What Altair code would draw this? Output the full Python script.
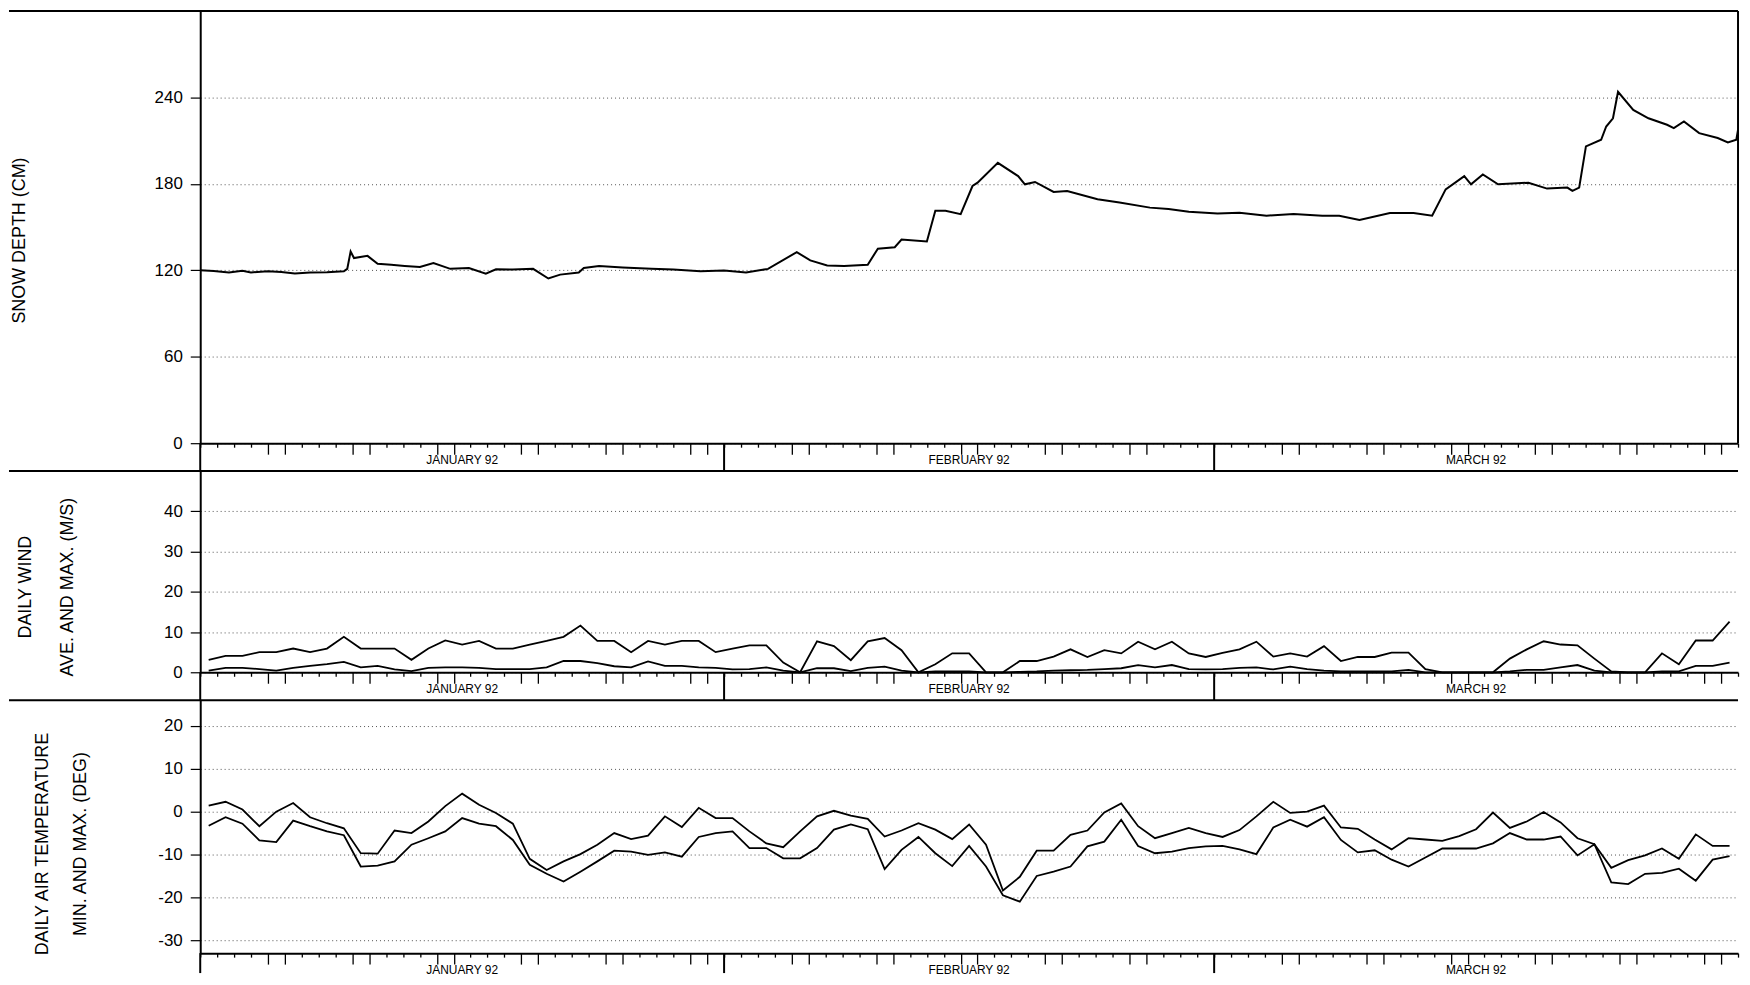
import altair as alt
import pandas as pd

FONT = "Liberation Sans"

# ---------------- data ----------------
MONTHS = ["JANUARY 92", "FEBRUARY 92", "MARCH 92"]
MONTH_START = [0, 31, 60]
MONTH_END = [31, 60, 91]

# snow depth (cm) at fractional day since 1 Jan 1992
SNOW_DAY = [0.0, 0.8, 1.7, 2.5, 3.0, 4.0, 4.8, 5.6, 6.5, 7.5,
            8.5, 8.7, 8.9, 9.1, 9.9, 10.5, 11.3, 12.1, 13.0, 13.8,
            14.8, 15.9, 16.9, 17.5, 18.5, 19.7, 20.6, 21.3, 22.4, 22.7,
            23.6, 25.0, 26.7, 28.0, 29.6, 31.0, 32.3, 33.6, 35.3, 36.1,
            37.1, 38.1, 39.5, 40.1, 41.1, 41.5, 43.0, 43.5, 44.1, 45.0,
            45.7, 46.0, 47.2, 48.4, 48.8, 49.4, 50.5, 51.3, 53.1, 54.4,
            56.2, 57.3, 58.5, 60.2, 61.5, 63.1, 64.7, 66.4, 67.4, 68.6,
            70.4, 71.8, 72.9, 73.7, 74.8, 75.2, 75.9, 76.8, 78.6, 79.7,
            80.9, 81.2, 81.6, 82.0, 82.9, 83.2, 83.6, 83.9, 84.8, 85.7,
            86.8, 87.2, 87.8, 88.7, 89.8, 90.4, 90.9, 91.0]
SNOW_CM = [120, 119.5, 118.4, 119.6, 118.5, 119.3, 118.8, 117.7, 118.5, 118.7,
           119.3, 121, 133, 128.5, 130, 124.6, 123.8, 123, 122.3, 125,
           121, 121.6, 117.7, 120.7, 120.5, 121, 114.3, 117, 118.4, 121.6,
           123, 122, 121, 120.5, 119.3, 119.8, 118.4, 121, 132.6, 126.9,
           123.4, 123, 123.9, 135, 136, 141.3, 140, 161.3, 161.3, 159,
           178.5, 180.8, 194.6, 185.4, 179.7, 181.3, 174.4, 175, 169.3, 167,
           163.5, 162.5, 160.6, 159.5, 160, 157.9, 159, 157.9, 157.9, 155,
           159.7, 159.7, 157.9, 176.2, 185.4, 179.7, 186.5, 179.7, 180.8, 176.7,
           177.4, 175.1, 177.4, 206, 210.6, 219.8, 225.5, 243.9, 231.3, 225.5,
           221, 218.7, 223.3, 215.2, 211.8, 208.8, 210.6, 217.5]

# daily values (1 Jan .. 31 Mar 1992), plotted at mid-day
DAY_MID = [d + 0.5 for d in range(91)]

WIND_MAX = [3.1, 4.1, 4.1, 5.0, 5.0, 5.9, 5.0, 5.9, 8.8, 5.9,
            5.9, 5.9, 3.1, 5.9, 7.9, 6.9, 7.8, 5.9, 5.9, 6.9,
            7.8, 8.8, 11.6, 7.8, 7.8, 5.0, 7.8, 6.9, 7.8, 7.8,
            5.0, 5.9, 6.7, 6.7, 2.4, 0.0, 7.7, 6.5, 3.0, 7.7,
            8.5, 5.5, 0.0, 2.0, 4.7, 4.7, 0.0, 0.0, 2.8, 2.8,
            3.9, 5.7, 3.8, 5.5, 4.7, 7.6, 5.7, 7.6, 4.7, 3.8,
            4.8, 5.7, 7.6, 3.9, 4.7, 3.9, 6.5, 2.8, 3.8, 3.8,
            4.9, 4.9, 0.8, 0.0, 0.0, 0.0, 0.0, 3.4, 5.7, 7.7,
            6.9, 6.7, 3.4, 0.2, 0.0, 0.0, 4.7, 2.0, 7.9, 7.9,
            12.6]
WIND_AVE = [0.4, 1.1, 1.1, 0.8, 0.4, 1.1, 1.6, 2.0, 2.6, 1.2,
            1.6, 0.7, 0.3, 1.1, 1.2, 1.2, 1.1, 0.8, 0.8, 0.8,
            1.2, 2.8, 2.8, 2.3, 1.5, 1.2, 2.7, 1.6, 1.6, 1.2,
            1.1, 0.7, 0.8, 1.2, 0.4, 0.0, 1.0, 1.0, 0.3, 1.1,
            1.4, 0.4, 0.0, 0.2, 0.2, 0.2, 0.0, 0.0, 0.1, 0.2,
            0.4, 0.5, 0.6, 0.8, 1.0, 1.8, 1.2, 1.8, 0.8, 0.7,
            0.8, 1.1, 1.2, 0.7, 1.4, 0.8, 0.4, 0.2, 0.2, 0.2,
            0.2, 0.6, 0.0, 0.0, 0.0, 0.0, 0.0, 0.2, 0.6, 0.6,
            1.2, 1.8, 0.4, 0.0, 0.0, 0.0, 0.2, 0.2, 1.6, 1.6,
            2.4]

TEMP_MAX = [1.4, 2.3, 0.5, -3.4, 0.0, 2.0, -1.3, -2.7, -3.9, -9.7,
            -9.8, -4.4, -5.0, -2.3, 1.3, 4.2, 1.6, -0.3, -2.8, -11.0,
            -13.6, -11.6, -9.9, -7.7, -5.0, -6.4, -5.6, -1.1, -3.6, 0.9,
            -1.5, -1.5, -4.6, -7.4, -8.3, -4.6, -1.1, 0.2, -0.9, -1.7,
            -5.8, -4.4, -2.7, -4.2, -6.4, -3.0, -7.7, -18.4, -15.2, -9.1,
            -9.1, -5.4, -4.4, -0.2, 1.9, -3.4, -6.2, -5.0, -3.8, -5.0,
            -5.9, -4.3, -1.1, 2.3, -0.3, 0.0, 1.4, -3.7, -4.0, -6.5,
            -8.8, -6.2, -6.5, -6.8, -5.7, -4.1, -0.2, -3.8, -2.3, -0.1,
            -2.5, -6.2, -7.6, -13.1, -11.3, -10.2, -8.6, -11.0, -5.3, -8.0,
            -8.0]
TEMP_MIN = [-3.3, -1.3, -2.8, -6.7, -7.1, -2.1, -3.4, -4.6, -5.5, -12.8,
            -12.6, -11.6, -7.7, -6.2, -4.6, -1.5, -2.8, -3.4, -6.6, -12.4,
            -14.5, -16.3, -14.0, -11.6, -9.1, -9.3, -10.1, -9.5, -10.5, -5.9,
            -5.0, -4.6, -8.5, -8.5, -10.9, -10.9, -8.5, -4.2, -3.0, -4.1,
            -13.4, -8.9, -5.9, -9.7, -12.7, -8.0, -12.8, -19.5, -21.0, -15.0,
            -14.0, -12.8, -8.1, -7.0, -1.9, -8.0, -9.7, -9.3, -8.5, -8.1,
            -8.0, -8.8, -9.9, -3.7, -1.9, -3.5, -1.3, -6.6, -9.5, -9.0,
            -11.2, -12.8, -10.7, -8.6, -8.6, -8.6, -7.4, -5.0, -6.5, -6.5,
            -5.8, -10.2, -7.6, -16.5, -16.9, -14.5, -14.3, -13.3, -16.1, -11.2,
            -10.4]

# long "pair" ticks bracket the 5th, 10th, ... day of each month
LONG_TICKS = []
for s, e in zip(MONTH_START, MONTH_END):
    for k in (5, 10, 15, 20, 25, 30):
        if s + k <= e:
            LONG_TICKS += [s + k - 1, s + k]

# ---------------- layout ----------------
W = 1544
LEFT = 192
BAND = 28
H1, H2, H3 = 434, 202, 254

month_df = pd.DataFrame({"month": MONTHS, "start": MONTH_START, "end": MONTH_END})
snow_df = pd.DataFrame({"day": SNOW_DAY, "cm": SNOW_CM})
wind_df = pd.DataFrame({"day": DAY_MID, "Max": WIND_MAX, "Ave": WIND_AVE})
temp_df = pd.DataFrame({"day": DAY_MID, "Max": TEMP_MAX, "Min": TEMP_MIN})
one = pd.DataFrame({"k": [0]})

x_scale = alt.Scale(domain=[0, 91], nice=False, zero=False)
tick_test = "indexof([" + ",".join(str(t) for t in LONG_TICKS) + "], datum.value) >= 0"
x_axis = alt.Axis(
    values=list(range(0, 92)), labels=False, title=None, grid=False,
    domainColor="black", domainWidth=2, tickColor="black", tickWidth=1.3,
    tickSize={"condition": {"test": tick_test, "value": 11}, "value": 4},
)


def xenc(field):
    return alt.X(f"{field}:Q", scale=x_scale, axis=x_axis)


def yaxis(values, title, tx, ty, lh=None):
    kw = dict(
        values=values, title=title, titleX=tx, titleY=ty, titleAngle=270,
        titleAlign="center", titleBaseline="middle", titleFontSize=18,
        titleFontWeight="normal", titleColor="black", titleFont=FONT,
        labelFontSize=17, labelColor="black", labelFont=FONT, labelPadding=8,
        labelExpr="datum.value + ''",
        tickSize=10, tickColor="black", tickWidth=1.2,
        domainColor="black", domainWidth=2,
        grid=True, gridColor="#333", gridDash=[1, 3], gridWidth=1, gridOpacity=0.85,
    )
    if lh is not None:
        kw["titleLineHeight"] = lh
    return alt.Axis(**kw)


def frame_layers(h, band, right_edge=False):
    layers = []
    layers.append(
        alt.Chart(one).mark_rule(color="black", strokeWidth=2).encode(
            x=alt.value(-LEFT), x2=alt.value(W), y=alt.value(0))
    )
    layers.append(
        alt.Chart(month_df).mark_rule(color="black", strokeWidth=2).encode(
            x=xenc("start"), y=alt.value(h), y2=alt.value(h + band))
    )
    layers.append(
        alt.Chart(month_df).transform_calculate(mid="(datum.start + datum.end) / 2")
        .mark_text(font=FONT, fontSize=12, color="black", baseline="middle")
        .encode(x=xenc("mid"), y=alt.value(h + 17), text="month:N")
    )
    if right_edge:
        layers.append(
            alt.Chart(one).mark_rule(color="black", strokeWidth=2).encode(
                x=alt.value(W), y=alt.value(0), y2=alt.value(h))
        )
    return layers


# panel 1: snow depth
snow_line = alt.Chart(snow_df).mark_line(color="black", strokeWidth=2).encode(
    x=xenc("day"),
    y=alt.Y("cm:Q", scale=alt.Scale(domain=[0, 300], nice=False),
            axis=yaxis([0, 60, 120, 180, 240], "SNOW DEPTH (CM)", -181, 230)),
)
p1 = alt.layer(snow_line, *frame_layers(H1, BAND, right_edge=True)).properties(width=W, height=H1)

# panel 2: wind
wind_line = (
    alt.Chart(wind_df)
    .transform_fold(["Max", "Ave"], as_=["series", "v"])
    .mark_line(color="black", strokeWidth=1.8)
    .encode(
        x=xenc("day"),
        y=alt.Y("v:Q", scale=alt.Scale(domain=[0, 50], nice=False),
                axis=yaxis([0, 10, 20, 30, 40], ["DAILY WIND", "AVE. AND MAX. (M/S)"], -175, 116, 42)),
        detail="series:N",
    )
)
p2 = alt.layer(wind_line, *frame_layers(H2, BAND)).properties(width=W, height=H2)

# panel 3: temperature
temp_line = (
    alt.Chart(temp_df)
    .transform_fold(["Max", "Min"], as_=["series", "v"])
    .mark_line(color="black", strokeWidth=1.8)
    .encode(
        x=xenc("day"),
        y=alt.Y("v:Q", scale=alt.Scale(domain=[-33, 26], nice=False, zero=False),
                axis=yaxis([-30, -20, -10, 0, 10, 20],
                           ["DAILY AIR TEMPERATURE", "MIN. AND MAX. (DEG)"], -158, 144, 38)),
        detail="series:N",
    )
)
p3 = alt.layer(temp_line, *frame_layers(H3, 20)).properties(width=W, height=H3)

chart = (
    alt.vconcat(p1, p2, p3, spacing=BAND, bounds="flush")
    .properties(padding=0)
    .configure(font=FONT)
    .configure_view(stroke=None)
)

chart.save("out.html", embed_options={"renderer": "svg", "actions": False})
